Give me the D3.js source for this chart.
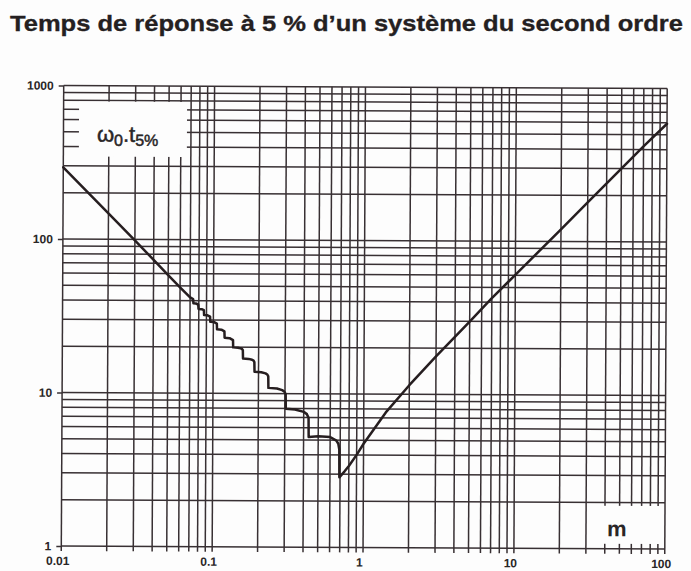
<!DOCTYPE html>
<html>
<head>
<meta charset="utf-8">
<script src="https://cdn.jsdelivr.net/npm/d3@7"></script>
<style>
  html, body { margin: 0; padding: 0; background: #fdfdfd; }
  svg { display: block; }
</style>
</head>
<body>
<svg id="chart" width="691" height="571"></svg>
<script>
// Damping ratio m and normalised 5 % response time ω0·t5%
const dampingRatio = [
  0.01, 0.02, 0.03, 0.04, 0.05, 0.06, 0.07,
  0.0733, 0.0737, 0.0765, 0.0793,
  0.0797, 0.0836, 0.0865,
  0.0868, 0.0915, 0.0951,
  0.0954, 0.1012, 0.1055,
  0.1058, 0.1131, 0.1185,
  0.1189, 0.1282, 0.1352,
  0.1356, 0.1458, 0.1526, 0.1555, 0.1572,
  0.1577, 0.1717, 0.1811, 0.1853, 0.1876,
  0.1882, 0.2087, 0.2226, 0.2288, 0.2322,
  0.2329, 0.2653, 0.2875, 0.2977, 0.3033,
  0.3042, 0.35, 0.40, 0.42, 0.4309,
  0.4322, 0.50, 0.60, 0.66, 0.68, 0.6906,
  0.6925, 0.75, 0.80, 0.90, 1.0, 1.4, 2, 3, 5, 7, 10, 20, 30, 50, 70, 100
];
const responseTime = [
  293, 147, 98.5, 73.5, 58.5, 48.8, 42.0,
  40.95, 38.46, 38.35, 37.81,
  35.36, 35.25, 34.69,
  32.26, 32.16, 31.56,
  29.16, 29.05, 28.43,
  26.07, 25.96, 25.31,
  22.99, 22.87, 22.20,
  19.92, 19.84, 19.63, 19.42, 19.09,
  16.87, 16.78, 16.56, 16.34, 15.99,
  13.85, 13.76, 13.52, 13.29, 12.92,
  10.88, 10.78, 10.53, 10.29, 9.89,
  7.98, 7.88, 7.61, 7.36, 6.96,
  5.23, 5.29, 5.23, 4.96, 4.73, 4.34,
  2.86, 3.13, 3.39, 4.01, 4.74, 7.6, 11.45, 17.7, 29.9, 42.5, 60.5, 120, 180, 300, 420, 590
];

// Axis ticks and labels
const xTickValues = [0.01, 0.1, 1, 10, 100];
const xTickLabels = ["0.01", "0.1", "1", "10", "100"];
const yTickValues = [1, 10, 100, 1000];
const yTickLabels = ["1", "10", "100", "1000"];

// Logarithmic grid: decades and the multipliers drawn inside each decade
const xDecades = [0.01, 0.1, 1, 10];
const yDecades = [1, 10, 100];
const gridSteps = [1, 2, 3, 4, 5, 6, 7, 8, 9];

const titleText = "Temps de réponse à 5 % d\u2019un système du second ordre";
const xAxisName = "m";

// ---------------------------------------------------------------
const plotLeft = 62.5, plotRight = 666, plotTop = 87, plotBottom = 547.5;
const ink = "#383033";
const curveInk = "#261e20";
const paper = "#fdfdfd";

const svg = d3.select("#chart");
svg.append("rect").attr("width", 691).attr("height", 571).attr("fill", paper);

svg.append("text")
  .attr("x", 10).attr("y", 31)
  .attr("textLength", 673).attr("lengthAdjust", "spacingAndGlyphs")
  .style("font-family", "'Liberation Sans', Arial, Helvetica, sans-serif")
  .style("font-weight", "bold").style("font-size", "22px")
  .attr("fill", "#242021")
  .attr("stroke", "#242021").attr("stroke-width", 0.3)
  .text(titleText);

const x = d3.scaleLog().domain([0.01, 100]).range([plotLeft, plotRight]);
const y = d3.scaleLog().domain([1, 1000]).range([plotBottom, plotTop]);

const xGrid = xDecades.flatMap(d => gridSteps.map(s => d * s)).concat([100]);
const yGrid = yDecades.flatMap(d => gridSteps.map(s => d * s)).concat([1000]);

// The sheet is printed slightly askew
const chart = svg.append("g")
  .attr("transform", `rotate(0.3, ${(plotLeft + plotRight) / 2}, ${(plotTop + plotBottom) / 2})`);

const grid = chart.append("g").attr("stroke", ink).attr("stroke-width", 1.5);

grid.selectAll("line.v").data(xGrid).join("line")
  .attr("class", "v")
  .attr("x1", d => x(d)).attr("x2", d => x(d))
  .attr("y1", plotTop).attr("y2", plotBottom + 5);

grid.selectAll("line.h").data(yGrid).join("line")
  .attr("class", "h")
  .attr("x1", plotLeft).attr("x2", plotRight)
  .attr("y1", d => y(d)).attr("y2", d => y(d));

// Clear panels behind the quantity label and the axis name
chart.append("rect")
  .attr("x", 78).attr("y", 103).attr("width", 108).attr("height", 55)
  .attr("fill", paper);
chart.append("rect")
  .attr("x", 596).attr("y", 504.5).attr("width", 68.5).attr("height", plotBottom - 5 - 504.5)
  .attr("fill", paper);

// Y axis: labels plus the short extensions of the decade lines
const yAxis = chart.append("g")
  .attr("transform", `translate(${plotLeft},0)`)
  .call(d3.axisLeft(y).tickValues(yTickValues)
    .tickFormat((d, i) => yTickLabels[i]).tickSize(5).tickPadding(5));
yAxis.select(".domain").remove();
yAxis.selectAll("line").attr("stroke", ink).attr("stroke-width", 1.5);
yAxis.selectAll("text")
  .style("font-family", "'Liberation Sans', Arial, sans-serif")
  .style("font-weight", "bold").style("font-size", "12px")
  .attr("fill", "#2a2627");

// X axis labels
const xAxis = chart.append("g")
  .attr("transform", `translate(0,${plotBottom})`)
  .call(d3.axisBottom(x).tickValues(xTickValues)
    .tickFormat((d, i) => xTickLabels[i]).tickSize(0).tickPadding(10.5));
xAxis.select(".domain").remove();
xAxis.selectAll("text")
  .attr("dx", -4)
  .style("font-family", "'Liberation Sans', Arial, sans-serif")
  .style("font-weight", "bold").style("font-size", "12px")
  .attr("fill", "#2a2627");

// Response time curve
const points = dampingRatio.map((m, i) => ({ m, t: responseTime[i] }));
chart.append("path")
  .datum(points)
  .attr("fill", "none")
  .attr("stroke", curveInk)
  .attr("stroke-width", 2.5)
  .attr("stroke-linejoin", "round")
  .attr("stroke-linecap", "round")
  .attr("d", d3.line().x(d => x(d.m)).y(d => y(d.t)));

// Quantity label ω0.t5%
const q = chart.append("text")
  .attr("x", 96).attr("y", 143)
  .style("font-family", "'Liberation Sans', Arial, sans-serif")
  .style("font-size", "22px")
  .attr("fill", "#2a2627")
  .attr("stroke", "#2a2627").attr("stroke-width", 0.5);
q.append("tspan").text("ω");
q.append("tspan").attr("dy", 4).style("font-size", "16px").text("0");
q.append("tspan").attr("dy", -4).text(".t");
q.append("tspan").attr("dy", 4).style("font-size", "16px").text("5%");

// Axis name
chart.append("text")
  .attr("x", 618).attr("y", 535)
  .attr("text-anchor", "middle")
  .style("font-family", "'Liberation Sans', Arial, sans-serif")
  .style("font-weight", "bold").style("font-size", "22px")
  .attr("fill", "#2a2627")
  .text(xAxisName);
</script>
</body>
</html>
